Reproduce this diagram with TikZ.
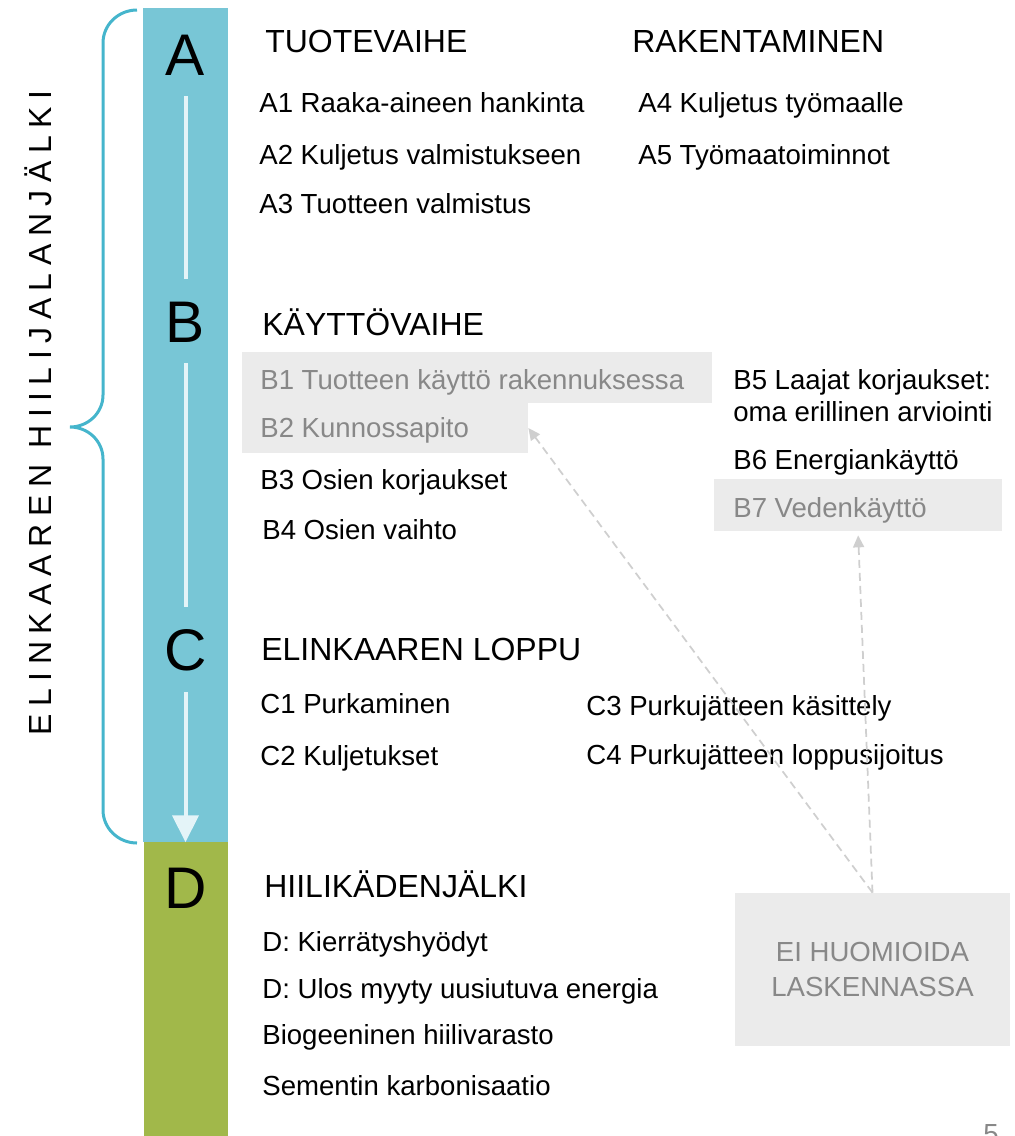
\documentclass[tikz,border=0pt]{standalone}
\usepackage{fontspec}
\setmainfont{Liberation Sans}
\usetikzlibrary{arrows.meta}

\definecolor{barblue}{HTML}{78C6D6}
\definecolor{bargreen}{HTML}{A1B84A}
\definecolor{bracecol}{HTML}{45B5CC}
\definecolor{boxgray}{HTML}{EBEBEB}
\definecolor{textgray}{HTML}{888888}
\definecolor{dashgray}{HTML}{CFCFCF}
\definecolor{arrowwhite}{HTML}{E4F4F8}

\begin{document}
\begin{tikzpicture}[x=0.2mm, y=-0.2mm,
    phase/.style = {anchor=base, inner sep=0, font=\fontsize{33.4}{40}\selectfont},
    heading/.style = {anchor=base west, inner sep=0, font=\fontsize{18.2}{22}\selectfont},
    item/.style = {anchor=base west, inner sep=0, font=\fontsize{15.7}{19}\selectfont},
    excluded/.style = {item, text=textgray},
    graybox/.style = {rectangle, fill=boxgray, inner sep=0},
    flow/.style = {arrowwhite, line width=0.8mm, shorten <=4.2mm, shorten >=4.4mm},
    hint/.style = {dashgray, line width=0.35mm, dash pattern=on 1.6mm off 1mm,
      -{Triangle[length=2.4mm,width=2.2mm]}}
]
  \useasboundingbox (0,0) rectangle (1014,1136);

  % phase bar
  \fill[barblue]  (143,8) rectangle (228,842);
  \fill[bargreen] (144,842) rectangle (228,1136);

  \node (lA) [phase] at (185.5,75)  {A};
  \node (lB) [phase] at (185.5,342) {B};
  \node (lC) [phase] at (185.5,670) {C};
  \node (lD) [phase] at (185.5,908) {D};

  \draw[flow] (lA.south) -- (lB.north);
  \draw[flow] (lB.south) -- (lC.north);
  \draw[flow, shorten >=5mm, -{Triangle[length=5.4mm,width=5.2mm]}] (lC.south) -- (lD.north);

  % brace + label
  \draw[bracecol, line width=0.6mm] (137,10) to[out=180,in=90] (103,43) -- (103,395)
    to[out=-90,in=0] (70,427) to[out=0,in=90] (103,459) -- (103,810)
    to[out=-90,in=180] (137,843);
  \node (lifelabel) [inner sep=0, rotate=90, font=\fontsize{18.2}{22}\selectfont] at (38,413)
    {\addfontfeature{LetterSpace=23.5}ELINKAAREN HIILIJALANJÄLKI};

  % excluded boxes
  \node (b1box) [graybox, minimum width=94mm, minimum height=10.2mm] at (477,377.5) {};
  \node (b2box) [graybox, minimum width=57.2mm, minimum height=10mm] at (385,428) {};
  \node (b7box) [graybox, minimum width=57.6mm, minimum height=10.4mm] at (858,505) {};
  \node (eibox) [graybox, minimum width=55mm, minimum height=30.6mm, align=center,
    text=textgray, font=\fontsize{15.7}{20}\selectfont] at (872.5,969.5)
    {EI HUOMIOIDA\\LASKENNASSA};

  % A
  \node (tuote)  [heading] at (265,53) {TUOTEVAIHE};
  \node (raken)  [heading] at (632,53) {RAKENTAMINEN};
  \node (a1) [item] at (259,112) {A1 Raaka-aineen hankinta};
  \node (a2) [item] at (259,164) {A2 Kuljetus valmistukseen};
  \node (a3) [item] at (259,213) {A3 Tuotteen valmistus};
  \node (a4) [item] at (638,112) {A4 Kuljetus työmaalle};
  \node (a5) [item] at (638,164) {A5 Työmaatoiminnot};

  % B
  \node (kaytto) [heading] at (262,335) {KÄYTTÖVAIHE};
  \node (b1) [excluded] at (260,389) {B1 Tuotteen käyttö rakennuksessa};
  \node (b2) [excluded] at (260,437) {B2 Kunnossapito};
  \node (b3) [item] at (260,489) {B3 Osien korjaukset};
  \node (b4) [item] at (262,539) {B4 Osien vaihto};
  \node (b5)  [item] at (733,389) {B5 Laajat korjaukset:};
  \node (b5b) [item] at (733,421) {oma erillinen arviointi};
  \node (b6) [item] at (733,469) {B6 Energiankäyttö};
  \node (b7) [excluded] at (733,517) {B7 Vedenkäyttö};

  % C
  \node (loppu) [heading] at (261,660) {ELINKAAREN LOPPU};
  \node (c1) [item] at (260,713) {C1 Purkaminen};
  \node (c2) [item] at (260,765) {C2 Kuljetukset};
  \node (c3) [item] at (586,715) {C3 Purkujätteen käsittely};
  \node (c4) [item] at (586,764) {C4 Purkujätteen loppusijoitus};

  % D
  \node (kaden) [heading] at (264,897) {HIILIKÄDENJÄLKI};
  \node (d1) [item] at (262,951)  {D: Kierrätyshyödyt};
  \node (d2) [item] at (262,998)  {D: Ulos myyty uusiutuva energia};
  \node (d3) [item] at (262,1044) {Biogeeninen hiilivarasto};
  \node (d4) [item] at (262,1095) {Sementin karbonisaatio};

  \draw[hint] (eibox.north) -- (b2box.east);
  \draw[hint, shorten >=0.8mm] (eibox.north) -- (b7box.south);

  \node (pagenum) [item, text=textgray] at (983,1143) {5};
\end{tikzpicture}
\end{document}
